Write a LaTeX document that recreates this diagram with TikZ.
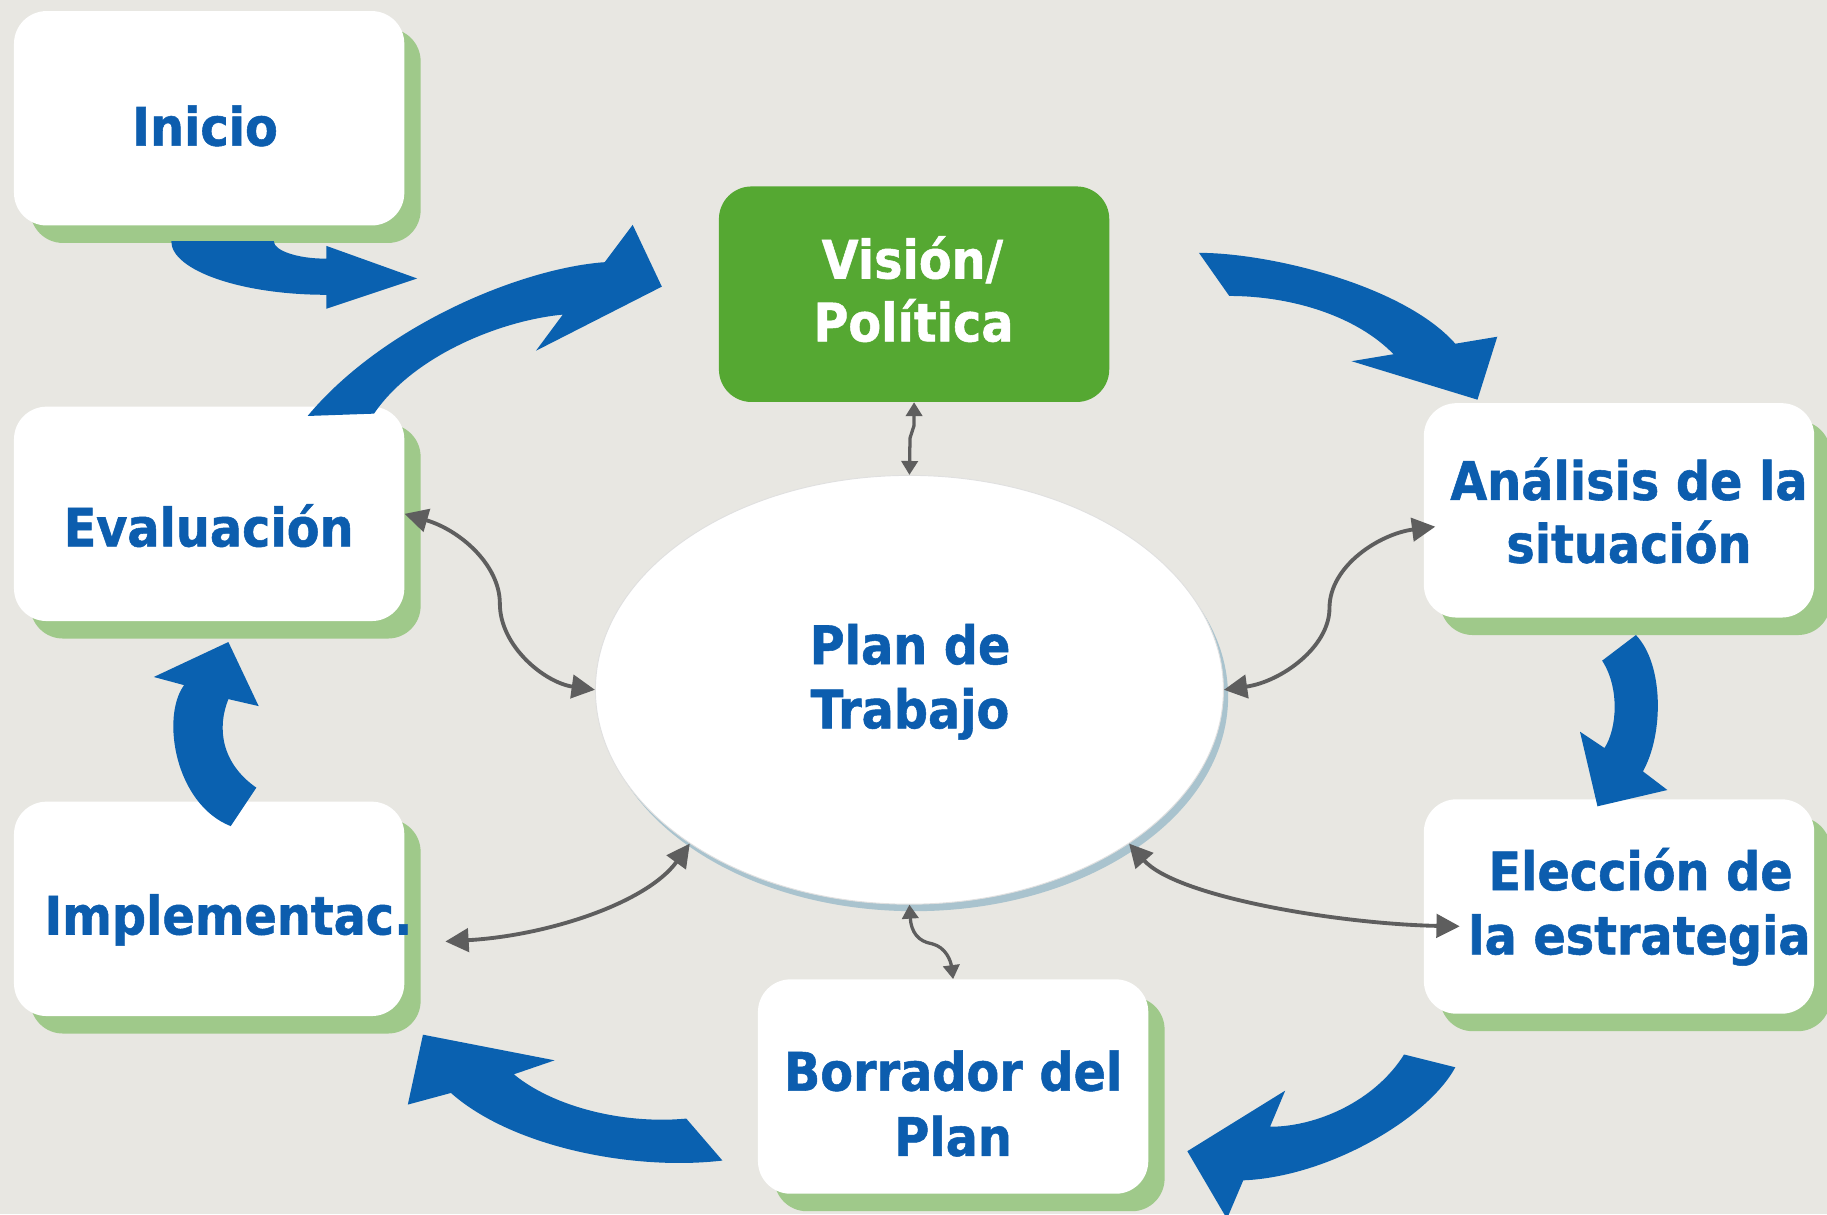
\documentclass[tikz,border=0pt]{standalone}
\usepackage{fontspec}
\setmainfont{DejaVu Sans}[FakeStretch=0.9, BoldFeatures={FakeBold=1}]
\usetikzlibrary{arrows.meta,shapes.geometric,calc,shadows}
\definecolor{bg}{HTML}{E8E7E2}
\definecolor{boxgreen}{HTML}{9FC98A}
\definecolor{visgreen}{HTML}{55A832}
\definecolor{myblue}{HTML}{0A61B0}
\definecolor{txtblue}{HTML}{0C5DAE}
\definecolor{conn}{HTML}{5E5E5E}
\definecolor{ellsh}{HTML}{A9C3CE}
\begin{document}
\begin{tikzpicture}[x=1pt,y=-1pt,
  box/.style={fill=white, rounded corners=28pt, minimum width=335pt, minimum height=184pt, inner sep=0pt,
    drop shadow={shadow xshift=14pt, shadow yshift=-15pt, fill=boxgreen, opacity=1}},
  visbox/.style={fill=visgreen, rounded corners=28pt, minimum width=335pt, minimum height=185pt, inner sep=0pt},
  lbl/.style={text=txtblue, font=\bfseries\fontsize{45.5}{55}\selectfont, inner sep=0pt, anchor=base},
  wlbl/.style={lbl, text=white},
  flow/.style={fill=myblue},
  link/.style={draw=conn, line width=3.3pt, {Triangle[length=20pt,width=20pt]}-{Triangle[length=20pt,width=20pt]}},
  smalllink/.style={draw=conn, line width=2.8pt, {Triangle[length=12pt,width=14pt]}-{Triangle[length=12pt,width=14pt]}}
]
\fill[bg] (0,0) rectangle (1568,1042);
\useasboundingbox (0,0) rectangle (1568,1042);

% boxes
\node[box] (ini) at (179.5,101.5) {};
\node[box] (eval) at (179.5,441) {};
\node[box] (imp) at (179.5,780) {};
\node[box] (bor) at (818,932.5) {};
\node[box] (ele) at (1389.5,778) {};
\node[box] (ana) at (1389.5,438) {};
\node[visbox] (vis) at (784.5,252.5) {};

% central ellipse
\fill[ellsh] (784.5,598) ellipse [x radius=269.5, y radius=184];
\node[ellipse, fill=white, draw=black!12, line width=0.8pt, minimum width=539pt, minimum height=368pt, inner sep=0pt] (plan) at (780.5,592) {};

% blue flow arrows
\fill[flow] (147,207) .. controls (147,232) and (207,253) .. (280,253) -- (280,265) -- (358,239) -- (280,211) -- (280,222) .. controls (255,222) and (235,215) .. (235,207) -- cycle;
\fill[flow] (264,357) .. controls (330,278) and (449,230) .. (519,225) -- (543,193) -- (568,246) -- (460,301) -- (483,270) .. controls (430,275) and (355,305) .. (321,355) -- cycle;
\fill[flow] (1029,217) .. controls (1090,217) and (1205,245) .. (1249,295) -- (1285,289) -- (1268,343) -- (1160,310) -- (1196,304) .. controls (1165,272) and (1110,254) .. (1055,254) -- cycle;
\fill[flow] (1404,545) .. controls (1428,570) and (1428,630) .. (1410,662) -- (1431,678) -- (1371,692) -- (1356,628) -- (1377,642) .. controls (1388,625) and (1390,590) .. (1375,567) -- cycle;
\fill[flow] (1249,916) .. controls (1225,960) and (1140,1010) .. (1067,1013) -- (1053,1046) -- (1019,988) -- (1103,936) -- (1090,967) .. controls (1130,967) and (1180,945) .. (1205,905) -- cycle;
\fill[flow] (620,996) .. controls (545,1005) and (440,985) .. (387,938) -- (350,948) -- (363,888) -- (476,910) -- (441,922) .. controls (475,950) and (535,965) .. (589,960) -- cycle;
\fill[flow] (198,709) .. controls (150,690) and (138,615) .. (158,588) -- (132,581) -- (196,551) -- (222,606) -- (196,600) .. controls (186,625) and (190,655) .. (220,676) -- cycle;

% labels
\node[lbl] (t-ini) at (176,125) {Inicio};
\node[lbl] (t-eval) at (179,469) {Evaluación};
\node[lbl] (t-imp) at (196,802) {Implementac.};
\node[lbl] (t-plan1) at (781,570) {Plan de};
\node[lbl] (t-plan2) at (781,625) {Trabajo};
\node[wlbl] (t-vis1) at (783,239) {Visión/};
\node[wlbl] (t-vis2) at (784,293) {Política};
\node[lbl] (t-ana1) at (1398,429) {Análisis de la};
\node[lbl] (t-ana2) at (1398,483) {situación};
\node[lbl] (t-ele1) at (1408,764) {Elección de};
\node[lbl] (t-ele2) at (1407,819) {la estrategia};
\node[lbl] (t-bor1) at (818,936) {Borrador del};
\node[lbl] (t-bor2) at (818,992) {Plan};

% gray connectors
\coordinate (anaIn) at ($(ana.west)+(10,14)$);
\coordinate (eleIn) at ($(ele.west)+(31,17)$);
\coordinate (impOut) at ($(imp.east)+(35,28)$);
\draw[link] (eval.east) .. controls (395,455) and (429,485) .. (429,518) .. controls (429,555) and (468,586) .. (plan.west);
\draw[link] (plan.east) .. controls (1100,585) and (1141,555) .. (1141,522) .. controls (1141,485) and (1185,458) .. (anaIn);
\draw[link] (impOut) .. controls (470,803) and (555,775) .. (plan.-145);
\draw[link] (plan.-35) .. controls (1010,770) and (1150,793) .. (eleIn);
\draw[smalllink] (vis.south) -- (784.5,365) -- (781,376) -- (plan.north);
\draw[smalllink] (plan.south) .. controls (782,800) and (788,808) .. (800,810) .. controls (812,813) and (816,825) .. (bor.north);
\end{tikzpicture}
\end{document}
